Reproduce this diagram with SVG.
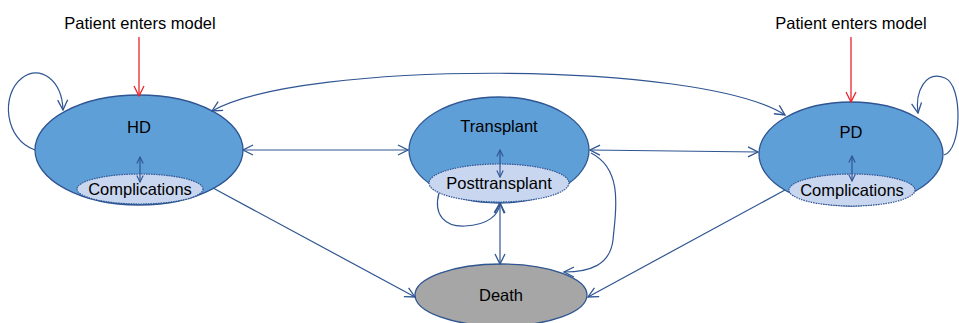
<svg xmlns="http://www.w3.org/2000/svg" width="959" height="323" viewBox="0 0 959 323">
<style>
.main{fill:#5f9fd7;stroke:#2f5592;stroke-width:1.3}
.sub{fill:#c9d6ef;stroke:#2f5592;stroke-width:1.2;stroke-dasharray:1.5 1}
.death{fill:#a6a6a6;stroke:#2f5592;stroke-width:1.3}
.t{font-family:"Liberation Sans",Arial,sans-serif;font-size:16.5px;fill:#000;text-anchor:middle}
.lbl{font-family:"Liberation Sans",Arial,sans-serif;font-size:16.5px;fill:#000;text-anchor:middle}
.c{fill:none;stroke:#2f5592;stroke-width:1.2}
.r{fill:none;stroke:#e8242a;stroke-width:1.3}
</style>
<defs>
<marker id="a" viewBox="0 0 12 12" refX="11" refY="6" markerWidth="12" markerHeight="12" markerUnits="userSpaceOnUse" orient="auto-start-reverse">
<path d="M1,1 L11,6 L1,11" fill="none" stroke="#2f5592" stroke-width="1.3"/>
</marker>
<marker id="s" viewBox="0 0 10 10" refX="9" refY="5" markerWidth="8" markerHeight="8" markerUnits="userSpaceOnUse" orient="auto-start-reverse">
<path d="M1,1 L9,5 L1,9" fill="none" stroke="#2f5592" stroke-width="1.4"/>
</marker>
<marker id="ar" viewBox="0 0 12 12" refX="11" refY="6" markerWidth="12" markerHeight="12" markerUnits="userSpaceOnUse" orient="auto">
<path d="M1,1 L11,6 L1,11" fill="none" stroke="#e8242a" stroke-width="1.3"/>
</marker>
</defs>

<g id="label-left"><text class="lbl" x="140" y="29">Patient enters model</text></g>
<g id="label-right"><text class="lbl" x="851" y="29">Patient enters model</text></g>

<g id="hd">
<ellipse class="main" cx="139" cy="150" rx="104" ry="55"/>
<text class="t" x="139" y="133">HD</text>
</g>
<g id="hd-complications">
<ellipse class="sub" cx="140" cy="189" rx="63" ry="15"/>
<text class="t" x="140" y="195">Complications</text>
</g>

<g id="transplant">
<ellipse class="main" cx="499" cy="150" rx="90" ry="53"/>
<text class="t" x="499" y="132">Transplant</text>
</g>
<g id="posttransplant">
<ellipse class="sub" cx="499" cy="183" rx="70" ry="19"/>
<text class="t" x="499" y="189">Posttransplant</text>
</g>

<g id="pd">
<ellipse class="main" cx="851" cy="154" rx="92" ry="52"/>
<text class="t" x="851" y="138">PD</text>
</g>
<g id="pd-complications">
<ellipse class="sub" cx="852" cy="190" rx="63" ry="16"/>
<text class="t" x="852" y="196">Complications</text>
</g>

<g id="death">
<ellipse class="death" cx="501" cy="295" rx="86" ry="31"/>
<text class="t" x="501" y="301">Death</text>
</g>

<g id="connectors">
<line class="r" x1="139" y1="37" x2="139" y2="96" marker-end="url(#ar)"/>
<line class="r" x1="851" y1="37" x2="851" y2="102" marker-end="url(#ar)"/>
<path class="c" d="M35,150 C5,140 0,95 22,78 C40,64 62,80 63,110" marker-end="url(#a)"/>
<path class="c" d="M944,155 C962,150 963,85 945,78 C925,70 915,92 918,113" marker-end="url(#a)"/>
<path class="c" d="M212,111 C300,60 700,60 785,115" marker-start="url(#a)" marker-end="url(#a)"/>
<line class="c" x1="243" y1="150" x2="408" y2="150" marker-start="url(#a)" marker-end="url(#a)"/>
<line class="c" x1="590" y1="150" x2="758" y2="152" marker-start="url(#a)" marker-end="url(#a)"/>
<line class="c" x1="140" y1="157" x2="140" y2="182" marker-start="url(#s)" marker-end="url(#s)"/>
<line class="c" x1="500" y1="150" x2="500" y2="177" marker-start="url(#s)" marker-end="url(#s)"/>
<line class="c" x1="852" y1="156" x2="852" y2="181" marker-start="url(#s)" marker-end="url(#s)"/>
<path class="c" d="M439,193 C433,215 445,227 465,226 C488,225 499,215 500,203" marker-end="url(#a)"/>
<line class="c" x1="500" y1="203" x2="500" y2="264" marker-start="url(#a)" marker-end="url(#a)"/>
<line class="c" x1="213" y1="188" x2="415" y2="297" marker-end="url(#a)"/>
<line class="c" x1="785" y1="190" x2="588" y2="297" marker-end="url(#a)"/>
<path class="c" d="M591,153 C625,170 615,215 613,240 C610,265 590,272 564,272" marker-end="url(#a)"/>
</g>
</svg>
